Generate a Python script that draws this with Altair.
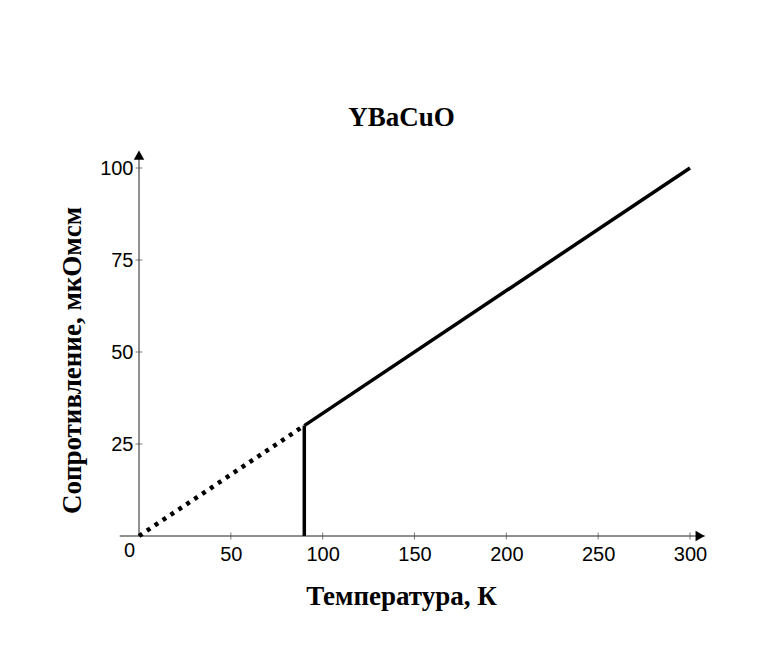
import altair as alt
import pandas as pd

# ---- data ----
solid_T = [90, 300]
solid_R = [30, 100]
dotted_T = [0, 90]
dotted_R = [0, 30]
drop_T = [90, 90]
drop_R = [0, 30]

x_ticks = [50, 100, 150, 200, 250, 300]
y_ticks = [25, 50, 75, 100]
x_zero_label = ["0"]

x_axis_extent = [-10.5, 308]   # axis line extents (data units)
y_axis_extent = [0, 103]
x_arrow = [305.5]
y_arrow = [103.5]

title = "YBaCuO"
x_title = "Температура, К"
y_title = "Сопротивление, мкОмсм"

W, H = 551, 368

xs = alt.Scale(domain=[0, 300], nice=False, zero=False)
ys = alt.Scale(domain=[0, 100], nice=False, zero=False)

solid_df = pd.DataFrame({"T": solid_T, "R": solid_R})
dotted_df = pd.DataFrame({"T": dotted_T, "R": dotted_R})
drop_df = pd.DataFrame({"T": drop_T, "R": drop_R})
xt_df = pd.DataFrame({"T": x_ticks})
yt_df = pd.DataFrame({"R": y_ticks})

axis_col = "#222222"
tick_col = "#444444"

x_axis = alt.Axis(values=x_ticks, domain=False, ticks=False, grid=False,
                  labelFont="Liberation Sans", labelFontSize=20, labelColor="black",
                  labelPadding=8, labelFlush=False,
                  title=x_title, titleFont="Liberation Serif", titleFontSize=27,
                  titleFontWeight="bold", titleColor="black",
                  titleX=262, titleY=68, titleBaseline="alphabetic", titleAnchor="start",
                  titleAlign="center")
y_axis = alt.Axis(values=y_ticks, domain=False, ticks=False, grid=False,
                  labelFont="Liberation Sans", labelFontSize=20, labelColor="black",
                  labelPadding=6, labelFlush=False,
                  title=y_title, titleFont="Liberation Serif", titleFontSize=27,
                  titleFontWeight="bold", titleColor="black",
                  titleX=-59, titleY=192, titleBaseline="alphabetic", titleAngle=270,
                  titleAlign="center", titleAnchor="start")

# invisible layer carrying the axes
axes_layer = alt.Chart(solid_df).mark_point(opacity=0).encode(
    x=alt.X("T:Q", scale=xs, axis=x_axis),
    y=alt.Y("R:Q", scale=ys, axis=y_axis),
)

x_line = alt.Chart(pd.DataFrame({"a": [x_axis_extent[0]], "b": [x_axis_extent[1]]})).mark_rule(
    color=axis_col, strokeWidth=1).encode(x="a:Q", x2="b:Q", y=alt.datum(0))
y_line = alt.Chart(pd.DataFrame({"a": [y_axis_extent[0]], "b": [y_axis_extent[1]]})).mark_rule(
    color=axis_col, strokeWidth=1).encode(y="a:Q", y2="b:Q", x=alt.datum(0))

x_arrow_m = alt.Chart(pd.DataFrame({"T": x_arrow})).mark_point(
    shape="triangle-right", filled=True, color="black", size=110, opacity=1).encode(
    x="T:Q", y=alt.datum(0))
y_arrow_m = alt.Chart(pd.DataFrame({"R": y_arrow})).mark_point(
    shape="triangle-up", filled=True, color="black", size=110, opacity=1).encode(
    y="R:Q", x=alt.datum(0))

x_tick_m = alt.Chart(xt_df).mark_tick(orient="vertical", size=7, thickness=1, color=tick_col).encode(
    x="T:Q", y=alt.datum(0))
y_tick_m = alt.Chart(yt_df).mark_tick(orient="horizontal", size=7, thickness=1, color=tick_col).encode(
    y="R:Q", x=alt.datum(0))

zero_lbl = alt.Chart(pd.DataFrame({"t": x_zero_label})).mark_text(
    font="Liberation Sans", fontSize=20, color="black", align="right", baseline="top",
    dx=-4, dy=5).encode(x=alt.datum(0), y=alt.datum(0), text="t:N")

dotted = alt.Chart(dotted_df).mark_line(color="black", strokeWidth=4.5, strokeDash=[4, 5.5],
                                        strokeCap="butt").encode(x="T:Q", y="R:Q")
solid = alt.Chart(solid_df).mark_line(color="black", strokeWidth=3.5).encode(x="T:Q", y="R:Q")
drop = alt.Chart(drop_df).mark_line(color="black", strokeWidth=3.5).encode(x="T:Q", y="R:Q")

chart = alt.layer(
    axes_layer, x_line, y_line, x_tick_m, y_tick_m, x_arrow_m, y_arrow_m,
    dotted, solid, drop, zero_lbl
).properties(
    width=W, height=H,
    title=alt.TitleParams(title, font="Liberation Serif", fontSize=27, fontWeight="bold",
                          color="black", anchor="middle", dx=-13, dy=29,
                          baseline="alphabetic", offset=27),
    padding={"left": 131, "top": 160, "right": 85, "bottom": 97},
    autosize=alt.AutoSizeParams(type="none"),
    background="white",
).configure_view(stroke=None)

chart.save("out.html", embed_options={"renderer": "svg", "actions": False})
